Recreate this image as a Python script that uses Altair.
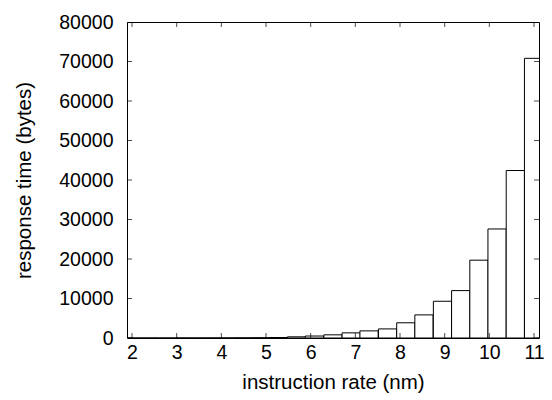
import altair as alt
import pandas as pd

# bin left edges (instruction rate) and bar heights (response time)
bin_left = [1.80, 2.21, 2.62, 3.02, 3.43, 3.84, 4.25, 4.66, 5.07, 5.48, 5.88,
            6.295, 6.703, 7.103, 7.518, 7.926, 8.332, 8.747, 9.155, 9.563,
            9.969, 10.378, 10.786]
values = [2, 4, 6, 10, 15, 25, 40, 70, 120, 300, 500,
          800, 1300, 1800, 2300, 3850, 5850, 9300, 12000, 19700,
          27600, 42400, 70800]
bin_width = 0.408
x_ticks = [2, 3, 4, 5, 6, 7, 8, 9, 10, 11]
y_ticks = [0, 10000, 20000, 30000, 40000, 50000, 60000, 70000, 80000]

df = pd.DataFrame({"x0": bin_left, "v": values})
df["x1"] = df["x0"] + bin_width
xt = pd.DataFrame({"t": x_ticks})
yt = pd.DataFrame({"t": y_ticks})

W, H = 412, 316
FONT = "Liberation Sans"
xs = alt.Scale(domain=[2, 11], nice=False, zero=False)
ys = alt.Scale(domain=[0, 80000], nice=False)

xaxis = alt.Axis(values=x_ticks, title="instruction rate (nm)", format="d",
                 labelPadding=5, titlePadding=11)
yaxis = alt.Axis(values=y_ticks, title="response time (bytes)", format="d",
                 labelPadding=14, titlePadding=24)

bars = alt.Chart(df).mark_bar(
    fill="white", stroke="black", strokeWidth=1, clip=True, orient="vertical"
).encode(
    x=alt.X("x0:Q", scale=xs, axis=xaxis),
    x2="x1",
    y=alt.Y("v:Q", scale=ys, axis=yaxis),
    y2=alt.datum(0),
)

tick_len = 10
xb = alt.Chart(xt).mark_tick(color="black", size=tick_len, thickness=1,
                             clip=True, orient="vertical").encode(
    x=alt.X("t:Q", scale=xs, axis=xaxis), y=alt.value(H))
xtp = alt.Chart(xt).mark_tick(color="black", size=tick_len, thickness=1,
                              clip=True, orient="vertical").encode(
    x=alt.X("t:Q", scale=xs, axis=xaxis), y=alt.value(0))
yl = alt.Chart(yt).mark_tick(color="black", size=tick_len, thickness=1,
                             clip=True, orient="horizontal").encode(
    y=alt.Y("t:Q", scale=ys, axis=yaxis), x=alt.value(0))
yr = alt.Chart(yt).mark_tick(color="black", size=tick_len, thickness=1,
                             clip=True, orient="horizontal").encode(
    y=alt.Y("t:Q", scale=ys, axis=yaxis), x=alt.value(W))

chart = alt.layer(bars, xb, xtp, yl, yr).properties(
    width=W, height=H,
    autosize=alt.AutoSizeParams(type="none"),
    padding={"left": 119, "top": 14, "right": 5, "bottom": 62},
).configure_view(
    stroke="black", strokeWidth=1
).configure_axis(
    grid=False, domain=False, ticks=False, tickSize=0,
    labelFont=FONT, labelFontSize=19.5, labelColor="black",
    titleFont=FONT, titleFontSize=20.5, titleColor="black", titleFontWeight="normal",
)

chart.save("out.html", embed_options={"renderer": "svg", "actions": False})
